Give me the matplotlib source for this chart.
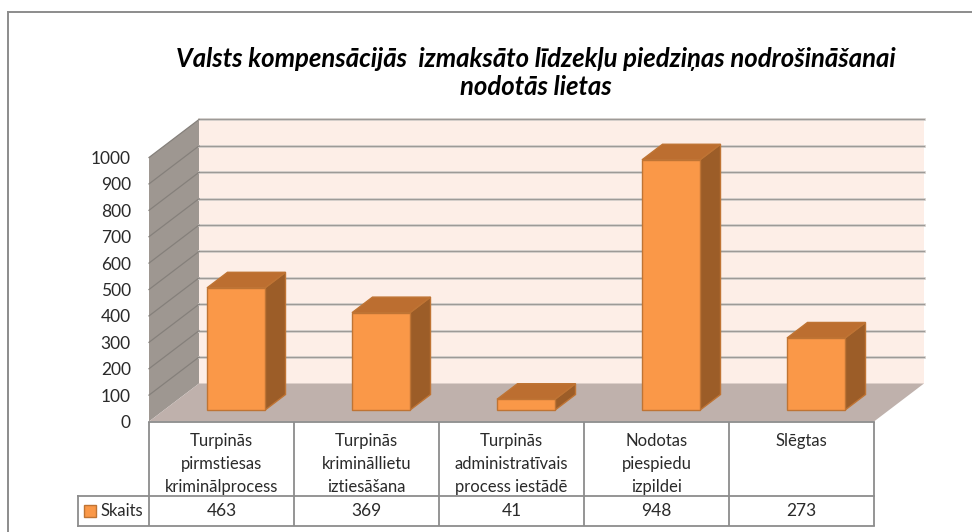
import numpy as np
import matplotlib
matplotlib.use('Agg')
import matplotlib.pyplot as plt
from matplotlib.patches import Polygon, Rectangle

categories = ['Turpinās\npirmstiesas\nkriminālprocess', 'Turpinās\nkrimināllietu\niztiesāšana',
              'Turpinās\nadministratīvais\nprocess iestādē', 'Nodotas\npiespiedu\nizpildei', 'Slēgtas']
values = [463, 369, 41, 948, 273]
series_name = 'Skaits'
yticks = list(range(0, 1001, 100))
title = 'Valsts kompensācijās  izmaksāto līdzekļu piedziņas nodrošināšanai\nnodotās lietas'

W, H = 972, 532
plt.rcParams['font.family'] = ['Lato', 'DejaVu Sans']

# front plane of the 3d box, in pixels
x0, x1, y_bot, y_top = 149, 874, 421.5, 157.5
fig = plt.figure(figsize=(W / 100, H / 100), dpi=100)
ax = fig.add_axes([x0 / W, 1 - y_bot / H, (x1 - x0) / W, (y_bot - y_top) / H])
ax.set_xlim(0, len(values))
ax.set_ylim(0, 1000)
ax.set_axis_off()

# depth of the box in data units
DX = 50 / ((x1 - x0) / len(values))
DY = 38 / ((y_bot - y_top) / 1000)


def poly(pts, fc, ec='none', lw=0, z=1):
    ax.add_patch(Polygon(pts, closed=True, fc=fc, ec=ec, lw=lw, zorder=z, clip_on=False))


n = len(values)
# back wall, side wall, floor
poly([(DX, DY), (n + DX, DY), (n + DX, 1000 + DY), (DX, 1000 + DY)], '#fdeee7', z=1)
poly([(0, 0), (DX, DY), (DX, 1000 + DY), (0, 1000)], '#9e9791', z=1)
poly([(0, 0), (n, 0), (n + DX, DY), (DX, DY)], '#bfb1ac', z=1)

for t in yticks:
    if t > 0:
        ax.plot([DX, n + DX], [t + DY, t + DY], color='#d8d4d0', lw=2.0, zorder=2, clip_on=False)
        ax.plot([DX, n + DX], [t + DY, t + DY], color='#9d9a97', lw=0.9, zorder=2, clip_on=False)
        ax.plot([0, DX], [t, t + DY], color='#85807b', lw=0.9, zorder=2, clip_on=False)
    ax.text(-0.125, t - 6, str(t), ha='right', va='center', fontsize=12.5, color='#2a2a2a', clip_on=False)

# bars
gap = 0.2966
bw = 0.40
d0, d1 = 0.30, 0.71
edge = '#bf7434'
for i, v in enumerate(values):
    l = i + gap
    r = l + bw
    fx0, fy0 = d0 * DX, d0 * DY
    bx, by = d1 * DX, d1 * DY
    poly([(r + fx0, fy0), (r + bx, by), (r + bx, v + by), (r + fx0, v + fy0)], '#9c5d28', ec=edge, lw=1, z=3)
    poly([(l + fx0, v + fy0), (r + fx0, v + fy0), (r + bx, v + by), (l + bx, v + by)], '#bc6e30', ec=edge, lw=1, z=3)
    poly([(l + fx0, fy0), (r + fx0, fy0), (r + fx0, v + fy0), (l + fx0, v + fy0)], '#fa9848', ec=edge, lw=1, z=4)

# data table below the axes, drawn on a pixel overlay
ov = fig.add_axes([0, 0, 1, 1], zorder=5)
ov.set_xlim(0, W)
ov.set_ylim(H, 0)
ov.set_axis_off()
ov.patch.set_alpha(0)
line = '#8c8c8c'
row_y, tbl_bot, tbl_left = 496, 525.5, 78
cw = (x1 - x0) / n
for i in range(n + 1):
    xx = x0 + i * cw
    ov.plot([xx, xx], [y_bot, tbl_bot], color=line, lw=1.3, solid_capstyle='butt')
ov.plot([x0, x1], [y_bot, y_bot], color=line, lw=1.3)
ov.plot([tbl_left, x1], [row_y, row_y], color=line, lw=1.3)
ov.plot([tbl_left, x1], [tbl_bot, tbl_bot], color=line, lw=1.3)
ov.plot([tbl_left, tbl_left], [row_y, tbl_bot], color=line, lw=1.3)

for i, (c, v) in enumerate(zip(categories, values)):
    xc = x0 + (i + 0.5) * cw
    for j, part in enumerate(c.split('\n')):
        ov.text(xc, 446 + j * 23, part, ha='center', va='baseline', fontsize=12, color='#2a2a2a')
    ov.text(xc, 511.5, str(v), ha='center', va='center', fontsize=12.5, color='#2a2a2a')

ov.add_patch(Rectangle((84, 505), 12, 12, fc='#fa9848', ec=edge, lw=1))
ov.text(100, 510.5, series_name, ha='left', va='center', fontsize=12, color='#2a2a2a')

# chart frame
ov.plot([8, 8], [H, 12], color='#8c8c8c', lw=1.4)
ov.plot([8, W], [12, 12], color='#8c8c8c', lw=1.4)

ov.text(535.5, 73, title, ha='center', va='center', fontsize=18.5, fontweight='bold',
        fontstyle='italic', color='black', linespacing=1.195)

fig.savefig('out.png', dpi=100)
